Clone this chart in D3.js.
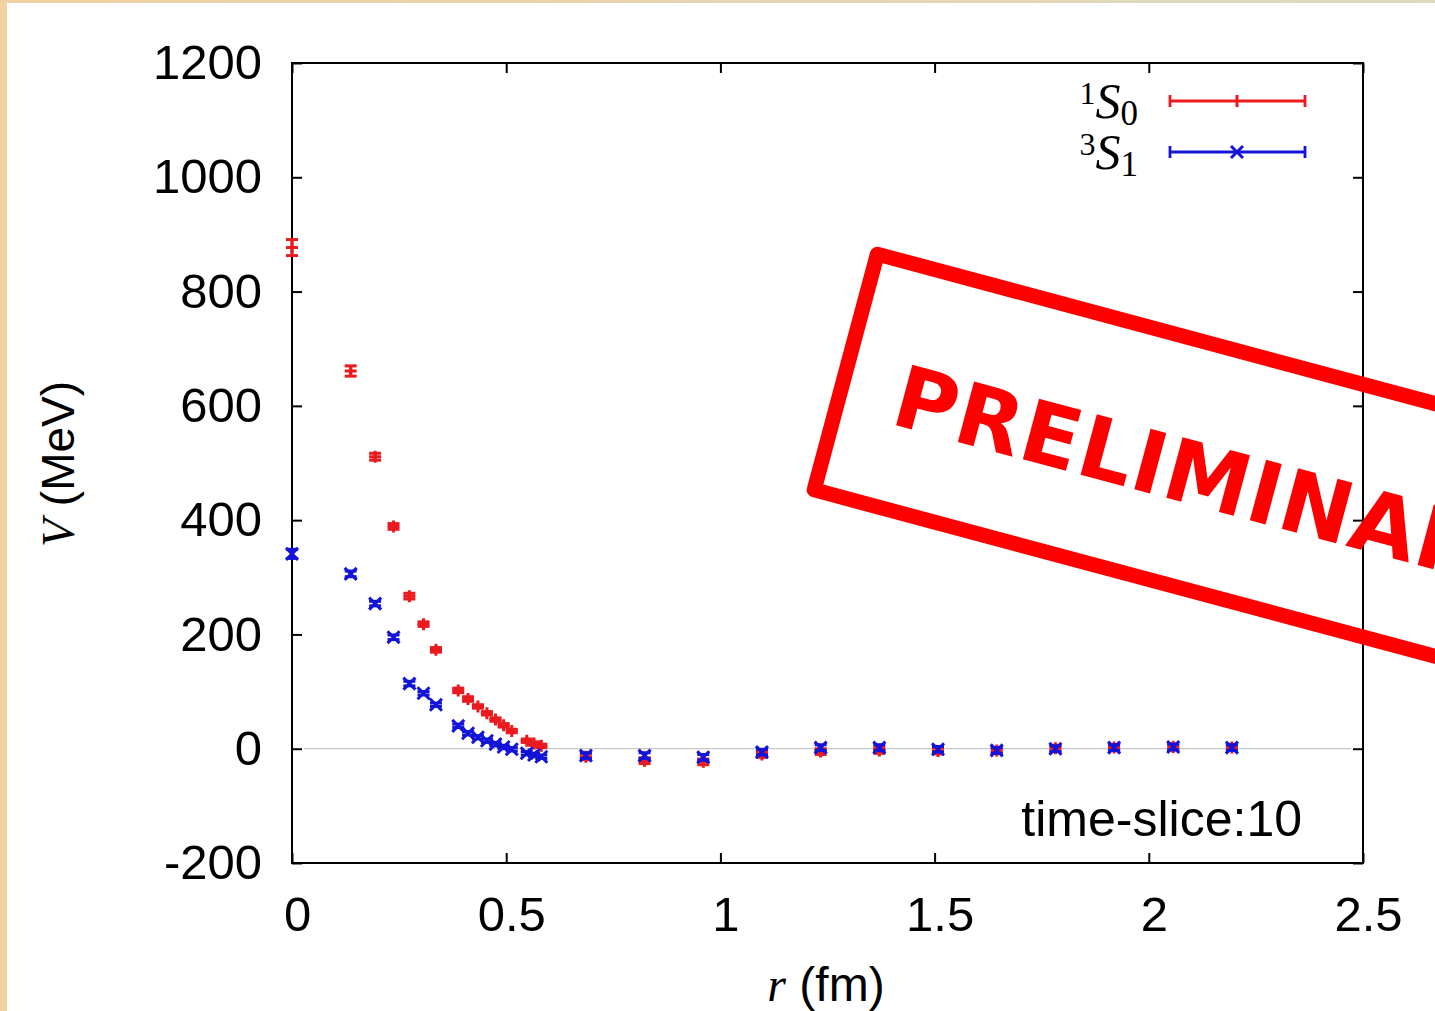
<!DOCTYPE html>
<html>
<head>
<meta charset="utf-8">
<script src="https://cdn.jsdelivr.net/npm/d3@7/dist/d3.min.js"></script>
<style>
  html, body { margin: 0; padding: 0; background: #fff; }
  svg { display: block; }
</style>
</head>
<body>
<svg id="chart" width="1435" height="1011"></svg>
<script>
// ---- data ----
const radius = [0, 0.137, 0.194, 0.237, 0.274, 0.307, 0.336, 0.388, 0.411, 0.434, 0.455, 0.475, 0.494, 0.513, 0.548, 0.565, 0.582,
                0.686, 0.823, 0.960, 1.097, 1.234, 1.371, 1.508, 1.645, 1.782, 1.919, 2.057, 2.194];
const vS0 = [877, 661, 511, 389, 267, 218, 173, 102, 87, 74, 62, 51, 41, 31, 14, 9, 5,
             -14, -21, -23, -10, -5, -3, -4, -3, 1, 2, 3, 2];
const eS0 = [14, 9, 6, 5, 5, 4, 4, 4, 4, 3, 3, 3, 3, 3, 3, 3, 3,
             5, 5, 5, 5, 5, 5, 5, 5, 5, 5, 5, 5];
const vS1 = [341, 306, 254, 195, 114, 97, 77, 40, 27, 20, 14, 8, 3, -1, -8, -11, -14,
             -12, -12, -15, -6, 2, 2, -1, -3, 0, 2, 3, 2];
const eS1 = [8, 5, 4, 4, 4, 3, 3, 3, 3, 3, 3, 3, 3, 3, 3, 3, 3,
             5, 5, 5, 5, 5, 5, 5, 5, 5, 5, 5, 5];
const xTicks = [0, 0.5, 1, 1.5, 2, 2.5];
const xTickLabels = ["0", "0.5", "1", "1.5", "2", "2.5"];
const yTicks = [-200, 0, 200, 400, 600, 800, 1000, 1200];
const yTickLabels = ["-200", "0", "200", "400", "600", "800", "1000", "1200"];
const annotation = "time-slice:10";
const stampText = "PRELIMINARY";

// ---- setup ----
const svg = d3.select("#chart");
const W = 1435, H = 1011;
const RED = "#ea1a1f", BLUE = "#1414d8";
const sans = "'Liberation Sans', Arial, Helvetica, sans-serif";
const serif = "'Liberation Serif', 'Times New Roman', serif";

// page decoration
const defs = svg.append("defs");
const grad = defs.append("linearGradient").attr("id", "topg").attr("x1", "0").attr("x2", "1");
grad.append("stop").attr("offset", "0").attr("stop-color", "#efd1a2");
grad.append("stop").attr("offset", "1").attr("stop-color", "#dcd9bf");
svg.append("rect").attr("x", 0).attr("y", 0).attr("width", W).attr("height", H).attr("fill", "#fff");
svg.append("rect").attr("x", 0).attr("y", 0).attr("width", W).attr("height", 3).attr("fill", "url(#topg)");
svg.append("rect").attr("x", 0).attr("y", 0).attr("width", 7).attr("height", H).attr("fill", "#efd1a2");

const x = d3.scaleLinear().domain([0, 2.5]).range([292, 1363]);
const y = d3.scaleLinear().domain([-200, 1200]).range([863, 63]);

// zero line
svg.append("line")
  .attr("x1", x(0) + 12).attr("x2", x(2.5) - 12)
  .attr("y1", y(0)).attr("y2", y(0))
  .attr("stroke", "#c8c8c8").attr("stroke-width", 1.2);

// axes
function styleAxis(g, hideText) {
  g.select(".domain").remove();
  g.selectAll(".tick line").attr("stroke", "#000").attr("stroke-width", 2);
  g.selectAll(".tick text").attr("fill", "#000").attr("font-family", sans).attr("font-size", 49);
  if (hideText) g.selectAll(".tick text").remove();
}
svg.append("g").attr("transform", `translate(${x(0)},0)`)
  .call(d3.axisLeft(y).tickValues(yTicks).tickSize(-10).tickPadding(30).tickFormat((d, i) => yTickLabels[i]))
  .call(g => styleAxis(g, false));
svg.append("g").attr("transform", `translate(${x(2.5)},0)`)
  .call(d3.axisRight(y).tickValues(yTicks).tickSize(-10))
  .call(g => styleAxis(g, true));
svg.append("g").attr("transform", `translate(0,${y(-200)})`)
  .call(d3.axisBottom(x).tickValues(xTicks).tickSize(-10).tickPadding(33).tickFormat((d, i) => xTickLabels[i]))
  .call(g => { styleAxis(g, false); g.selectAll(".tick text").attr("dx", 5); });
svg.append("g").attr("transform", `translate(0,${y(1200)})`)
  .call(d3.axisTop(x).tickValues(xTicks).tickSize(-10))
  .call(g => styleAxis(g, true));

// frame
svg.append("rect")
  .attr("x", x(0)).attr("y", y(1200))
  .attr("width", x(2.5) - x(0)).attr("height", y(-200) - y(1200))
  .attr("fill", "none").attr("stroke", "#000").attr("stroke-width", 2);

// series
const capW = 6, mk = 6;
function drawSeries(vals, errs, color, marker) {
  const g = svg.append("g").attr("stroke", color).attr("stroke-width", 3).attr("fill", "none");
  const data = radius.map((r, i) => ({ r, v: vals[i], e: errs[i] }));
  const pts = g.selectAll("g.pt").data(data).enter().append("g").attr("class", "pt")
    .attr("transform", d => `translate(${x(d.r)},0)`);
  pts.append("line").attr("x1", 0).attr("x2", 0)
    .attr("y1", d => y(d.v - d.e)).attr("y2", d => y(d.v + d.e));
  pts.append("line").attr("x1", -capW).attr("x2", capW)
    .attr("y1", d => y(d.v - d.e)).attr("y2", d => y(d.v - d.e));
  pts.append("line").attr("x1", -capW).attr("x2", capW)
    .attr("y1", d => y(d.v + d.e)).attr("y2", d => y(d.v + d.e));
  pts.append("path").attr("d", d => {
    const cy = y(d.v);
    if (marker === "plus") return `M${-mk},${cy}H${mk}M0,${cy - mk}V${cy + mk}`;
    return `M${-mk},${cy - mk}L${mk},${cy + mk}M${-mk},${cy + mk}L${mk},${cy - mk}`;
  });
}
drawSeries(vS0, eS0, RED, "plus");
drawSeries(vS1, eS1, BLUE, "cross");

// legend
const legendRows = [
  { sup: "1", sub: "0", color: RED, marker: "plus", ly: 101 },
  { sup: "3", sub: "1", color: BLUE, marker: "cross", ly: 152 }
];
legendRows.forEach(row => {
  const t = svg.append("text").attr("x", 1138).attr("y", row.ly + 17)
    .attr("text-anchor", "end").attr("font-family", serif).attr("fill", "#000");
  t.append("tspan").attr("font-size", 32).attr("dy", -14).text(row.sup);
  t.append("tspan").attr("font-size", 50).attr("font-style", "italic").attr("dy", 14).text("S");
  t.append("tspan").attr("font-size", 35).attr("dy", 7).text(row.sub);
  const g = svg.append("g").attr("stroke", row.color).attr("stroke-width", 2.8);
  g.append("line").attr("x1", 1170).attr("x2", 1305).attr("y1", row.ly).attr("y2", row.ly);
  g.append("line").attr("x1", 1170).attr("x2", 1170).attr("y1", row.ly - 6).attr("y2", row.ly + 6);
  g.append("line").attr("x1", 1305).attr("x2", 1305).attr("y1", row.ly - 6).attr("y2", row.ly + 6);
  const cx = 1237, cy = row.ly;
  g.append("path").attr("fill", "none").attr("stroke-width", 3).attr("d", row.marker === "plus"
    ? `M${cx},${cy - mk}V${cy + mk}`
    : `M${cx - mk},${cy - mk}L${cx + mk},${cy + mk}M${cx - mk},${cy + mk}L${cx + mk},${cy - mk}`);
});

// annotation
svg.append("text").attr("x", 1302).attr("y", 836).attr("text-anchor", "end")
  .attr("font-family", sans).attr("font-size", 50).attr("fill", "#000").text(annotation);

// axis titles
const yl = svg.append("text").attr("transform", "translate(74,464) rotate(-90)")
  .attr("text-anchor", "middle").attr("font-size", 46).attr("fill", "#000");
yl.append("tspan").attr("font-family", serif).attr("font-style", "italic").text("V");
yl.append("tspan").attr("font-family", sans).text(" (MeV)");
const xl = svg.append("text").attr("x", 826).attr("y", 1001)
  .attr("text-anchor", "middle").attr("font-size", 48).attr("fill", "#000");
xl.append("tspan").attr("font-family", serif).attr("font-style", "italic").text("r");
xl.append("tspan").attr("font-family", sans).text(" (fm)");

// PRELIMINARY stamp
const stamp = svg.append("g").attr("transform", "translate(872,245) rotate(15)");
stamp.append("rect").attr("x", 7.5).attr("y", 7.5).attr("width", 760).attr("height", 244)
  .attr("fill", "none").attr("stroke", "#ff0000").attr("stroke-width", 15).attr("stroke-linejoin", "round");
stamp.append("text").attr("x", 62).attr("y", 168)
  .attr("font-family", "'DejaVu Sans', Verdana, sans-serif").attr("font-weight", "bold")
  .attr("font-size", 86).attr("letter-spacing", 1).attr("fill", "#ff0000").text(stampText);
</script>
</body>
</html>
